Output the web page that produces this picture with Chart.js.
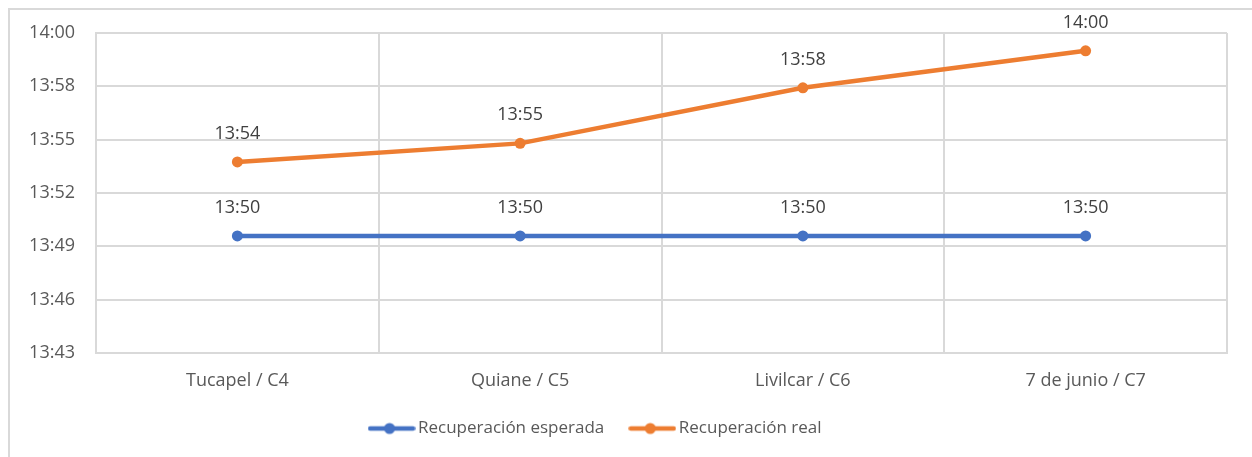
<!DOCTYPE html>
<html>
<head>
<meta charset="utf-8">
<script src="https://cdn.jsdelivr.net/npm/chart.js@4"></script>
<style>
  html, body { margin: 0; padding: 0; background: #ffffff; }
  #wrap { position: relative; width: 1252px; height: 457px; }
  #frame { position: absolute; left: 8px; top: 8px; right: -10px; bottom: -10px; border-top: 2px solid #d9d9d9; border-left: 2px solid #d9d9d9; pointer-events: none; }
  canvas { position: absolute; left: 0; top: 0; }
</style>
</head>
<body>
<div id="wrap">
  <canvas id="c" width="1252" height="457"></canvas>
  <div id="frame"></div>
</div>
<script>
// ---- data ----
const categories = ['Tucapel / C4', 'Quiane / C5', 'Livilcar / C6', '7 de junio / C7'];
const seriesNames = ['Recuperación esperada', 'Recuperación real'];
const expectedTimes = ['13:50', '13:50', '13:50', '13:50'];
const realTimes = ['13:54', '13:55', '13:58', '14:00'];
// y-axis ticks (Excel time axis: 0.572 to 0.584 day, step 0.002 day)
const yTickDays = [0.572, 0.574, 0.576, 0.578, 0.580, 0.582, 0.584];

const colors = ['#4472C4', '#ED7D31'];
const FONT = "'Open Sans'";

function toMin(s) { const p = s.split(':'); return (+p[0]) * 60 + (+p[1]); }
function fmt(min) {
  const m = Math.floor(min + 1e-6);
  const h = Math.floor(m / 60), mm = m % 60;
  return h + ':' + String(mm).padStart(2, '0');
}
const yTicks = yTickDays.map(d => d * 1440);

function marker(color) {
  const c = document.createElement('canvas');
  c.width = 48; c.height = 14;
  const x = c.getContext('2d');
  x.strokeStyle = color; x.lineWidth = 4.5; x.lineCap = 'round';
  x.beginPath(); x.moveTo(2.5, 7); x.lineTo(45.5, 7); x.stroke();
  x.fillStyle = color; x.beginPath(); x.arc(22, 7, 5.5, 0, Math.PI * 2); x.fill();
  return c;
}
const markers = colors.map(marker);

const labelPlugin = {
  id: 'pointLabels',
  afterDatasetsDraw(chart) {
    const ctx = chart.ctx;
    ctx.save();
    ctx.font = '18px ' + FONT;
    ctx.fillStyle = '#404040';
    ctx.textAlign = 'center';
    ctx.textBaseline = 'middle';
    chart.data.datasets.forEach((ds, i) => {
      chart.getDatasetMeta(i).data.forEach((pt, j) => {
        ctx.fillText(fmt(ds.data[j]), pt.x, pt.y - 28);
      });
    });
    ctx.restore();
  }
};

const legendShift = {
  id: 'legendShift',
  afterLayout(chart) {
    if (chart.legend) { chart.legend.left -= 16; chart.legend.right -= 16; }
  }
};

new Chart(document.getElementById('c'), {
  type: 'line',
  data: {
    labels: categories,
    datasets: [
      { label: seriesNames[0], data: expectedTimes.map(toMin), borderColor: colors[0], backgroundColor: colors[0],
        borderWidth: 4.5, pointRadius: 5.5, pointHoverRadius: 5.5, pointBorderWidth: 0, tension: 0 },
      { label: seriesNames[1], data: realTimes.map(toMin), borderColor: colors[1], backgroundColor: colors[1],
        borderWidth: 4.5, pointRadius: 5.5, pointHoverRadius: 5.5, pointBorderWidth: 0, tension: 0 }
    ]
  },
  options: {
    responsive: false,
    animation: false,
    events: [],
    layout: { padding: { left: 0, top: 33, right: 25, bottom: 10 } },
    scales: {
      x: {
        offset: true,
        grid: { offset: true, color: '#d9d9d9', lineWidth: 2, drawTicks: false },
        border: { color: '#d9d9d9', width: 2 },
        ticks: { color: '#595959', font: { family: FONT, size: 18 }, padding: 17, maxRotation: 0 },
        afterFit(s) { s.height = 37; }
      },
      y: {
        min: yTicks[0], max: yTicks[yTicks.length - 1],
        afterBuildTicks(s) { s.ticks = yTicks.map(v => ({ value: v })); },
        grid: { color: '#d9d9d9', lineWidth: 2, drawTicks: false },
        border: { color: '#d9d9d9', width: 2 },
        ticks: { color: '#595959', font: { family: FONT, size: 18 }, padding: 21, callback: v => fmt(v) },
        afterFit(s) { s.width = 96; }
      }
    },
    plugins: {
      tooltip: { enabled: false },
      legend: {
        position: 'bottom',
        labels: {
          color: '#595959',
          font: { family: FONT, size: 17 },
          usePointStyle: true,
          pointStyleWidth: 36,
          padding: 30,
          generateLabels(chart) {
            return Chart.defaults.plugins.legend.labels.generateLabels(chart).map((l, i) => {
              l.pointStyle = markers[i];
              return l;
            });
          }
        }
      }
    }
  },
  plugins: [labelPlugin, legendShift]
});
</script>
</body>
</html>
